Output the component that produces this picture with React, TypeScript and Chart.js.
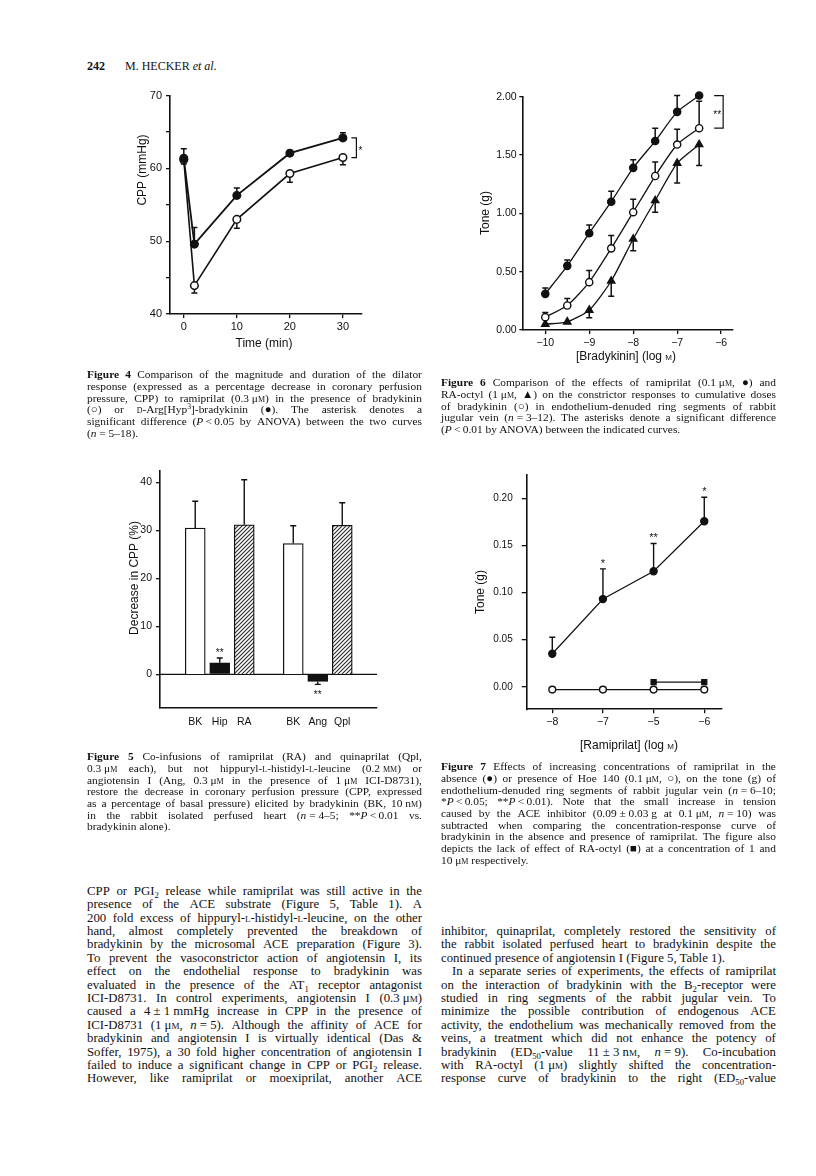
import React, { useEffect, useRef } from 'react';
import { Chart, registerables } from 'chart.js';

Chart.register(...registerables);

const INK = '#111111';
const SANS = '"Liberation Sans", Arial, sans-serif';
const SERIF = '"Liberation Serif", "Times New Roman", serif';
Chart.defaults.font.family = SANS;
Chart.defaults.color = INK;

// ---------- Figure 4 data ----------
const fig4TimeMin = [0, 2, 10, 20, 30];
const fig4DArgCpp = [61.4, 49.6, 56.3, 62.1, 64.2];
const fig4DArgSem = [1.3, 2.3, 1.0, 0.3, 0.7];
const fig4BkCpp = [61.2, 43.9, 53.0, 59.3, 61.5];
const fig4BkSem = [0.6, 1.0, 1.2, 1.2, 1.0];
const fig4YTicks = [40, 45, 50, 55, 60, 65, 70];
const fig4XTicks = [0, 10, 20, 30];

// ---------- Figure 6 data ----------
const fig6LogBk = [-10, -9.5, -9, -8.5, -8, -7.5, -7, -6.5];
const fig6RamiTone = [0.31, 0.55, 0.83, 1.10, 1.39, 1.62, 1.87, 2.01];
const fig6RamiSem = [0.05, 0.05, 0.07, 0.09, 0.07, 0.11, 0.14, 0];
const fig6BkTone = [0.11, 0.21, 0.41, 0.70, 1.01, 1.32, 1.59, 1.73];
const fig6BkSem = [0.04, 0.06, 0.10, 0.11, 0.11, 0.12, 0.13, 0.23];
const fig6OctylTone = [0.05, 0.07, 0.17, 0.42, 0.78, 1.11, 1.43, 1.59];
const fig6OctylSem = [0, 0, 0.065, 0.13, 0.10, 0.10, 0.17, 0.18];
const fig6YTicks = [0, 0.5, 1.0, 1.5, 2.0];
const fig6XTicks = [-10, -9, -8, -7, -6];

// ---------- Figure 5 data ----------
const fig5Labels = ['BK', 'Hip', 'RA', '', 'BK', 'Ang', 'Qpl'];
const fig5Decrease = [30.5, 2.4, 31.2, null, 27.3, -1.5, 31.1];
const fig5Sem = [5.6, 1.0, 9.4, null, 3.7, 0.6, 4.7];
const fig5Stars = ['', '**', '', '', '', '**', ''];
const fig5YTicks = [0, 10, 20, 30, 40];

// ---------- Figure 7 data ----------
const fig7Labels = ['\u22128', '\u22127', '\u22125', '\u22126'];
const fig7RamiTone = [0.035, 0.093, 0.1225, 0.1755];
const fig7RamiSem = [0.0175, 0.032, 0.0295, 0.0255];
const fig7HoeTone = [-0.003, -0.003, -0.003, -0.003];
const fig7OctylTone = [null, null, 0.005, 0.005];
const fig7Stars = ['', '*', '**', '*'];
const fig7YTicks = [0, 0.05, 0.1, 0.15, 0.2];

// ---------- text ----------
const fig4Caption = [
  '{b:Figure} {b:4} Comparison of the magnitude and duration of the dilator',
  'response (expressed as a percentage decrease in coronary perfusion',
  'pressure, CPP) to ramiprilat (0.3\u00a0μ{sc:m}) in the presence of bradykinin',
  '(\u25cb) or {sc:d}-Arg[Hyp{sup:3}]-bradykinin (\u25cf). The asterisk denotes a',
  'significant difference ({i:P}\u2009<\u20090.05 by ANOVA) between the two curves',
  '({i:n}\u00a0=\u00a05\u201318).¶',
];
const fig6Caption = [
  '{b:Figure} {b:6} Comparison of the effects of ramiprilat (0.1\u00a0μ{sc:m}, \u25cf) and',
  'RA-octyl (1\u00a0μ{sc:m}, \u25b2) on the constrictor responses to cumulative doses',
  'of bradykinin (\u25cb) in endothelium-denuded ring segments of rabbit',
  'jugular vein ({i:n}\u00a0=\u00a03\u201312). The asterisks denote a significant difference',
  '({i:P}\u2009<\u20090.01 by ANOVA) between the indicated curves.¶',
];
const fig5Caption = [
  '{b:Figure} {b:5} Co-infusions of ramiprilat (RA) and quinaprilat (Qpl,',
  '0.3\u00a0μ{sc:m} each), but not hippuryl-{sc:l}-histidyl-{sc:l}-leucine (0.2\u00a0{sc:mm}) or',
  'angiotensin I (Ang, 0.3\u00a0μ{sc:m} in the presence of 1\u00a0μ{sc:m} ICI-D8731),',
  'restore the decrease in coronary perfusion pressure (CPP, expressed',
  'as a percentage of basal pressure) elicited by bradykinin (BK, 10\u00a0n{sc:m})',
  'in the rabbit isolated perfused heart ({i:n}\u00a0=\u00a04\u20135; **{i:P}\u2009<\u20090.01 vs.',
  'bradykinin alone).¶',
];
const fig7Caption = [
  '{b:Figure} {b:7} Effects of increasing concentrations of ramiprilat in the',
  'absence (\u25cf) or presence of Hoe 140 (0.1\u00a0μ{sc:m}, \u25cb), on the tone (g) of',
  'endothelium-denuded ring segments of rabbit jugular vein ({i:n}\u00a0=\u00a06\u201310;',
  '*{i:P}\u2009<\u20090.05; **{i:P}\u2009<\u20090.01). Note that the small increase in tension',
  'caused by the ACE inhibitor (0.09\u00a0±\u00a00.03\u00a0g at 0.1\u00a0μ{sc:m}, {i:n}\u00a0=\u00a010) was',
  'subtracted when comparing the concentration-response curve of',
  'bradykinin in the absence and presence of ramiprilat. The figure also',
  'depicts the lack of effect of RA-octyl (\u25a0) at a concentration of 1 and',
  '10\u00a0μ{sc:m}  respectively.¶',
];
const bodyLeft = [
  'CPP or PGI{sub:2} release while ramiprilat was still active in the',
  'presence of the ACE substrate (Figure 5, Table 1). A',
  '200 fold excess of hippuryl-{sc:l}-histidyl-{sc:l}-leucine, on the other',
  'hand, almost completely prevented the breakdown of',
  'bradykinin by the microsomal ACE preparation (Figure 3).',
  'To prevent the vasoconstrictor action of angiotensin I, its',
  'effect on the endothelial response to bradykinin was',
  'evaluated in the presence of the AT{sub:1} receptor antagonist',
  'ICI-D8731. In control experiments, angiotensin I (0.3\u00a0μ{sc:m})',
  'caused a 4\u00a0±\u00a01\u00a0mmHg increase in CPP in the presence of',
  'ICI-D8731 (1\u00a0μ{sc:m}, {i:n}\u00a0=\u00a05). Although the affinity of ACE for',
  'bradykinin and angiotensin I is virtually identical (Das &',
  'Soffer, 1975), a 30 fold higher concentration of angiotensin I',
  'failed to induce a significant change in CPP or PGI{sub:2} release.',
  'However, like ramiprilat or moexiprilat, another ACE',
];
const bodyRight = [
  'inhibitor, quinaprilat, completely restored the sensitivity of',
  'the rabbit isolated perfused heart to bradykinin despite the',
  'continued presence of angiotensin I (Figure 5, Table 1).¶',
  '>In a separate series of experiments, the effects of ramiprilat',
  'on the interaction of bradykinin with the B{sub:2}-receptor were',
  'studied in ring segments of the rabbit jugular vein. To',
  'minimize the possible contribution of endogenous ACE',
  'activity, the endothelium was mechanically removed from the',
  'veins, a treatment which did not enhance the potency of',
  'bradykinin (ED{sub:50}-value 11\u00a0±\u00a03\u00a0n{sc:m}, {i:n}\u00a0=\u00a09). Co-incubation',
  'with RA-octyl (1\u00a0μ{sc:m}) slightly shifted the concentration-',
  'response curve of bradykinin to the right (ED{sub:50}-value',
];

// ---------- helpers ----------
function rich(s: string): React.ReactNode[] {
  const out: React.ReactNode[] = [];
  const re = /\{(b|i|sc|sup|sub):([^}]*)\}/g;
  let last = 0;
  let m: RegExpExecArray | null;
  let k = 0;
  while ((m = re.exec(s))) {
    if (m.index > last) out.push(s.slice(last, m.index));
    const kind = m[1];
    const t = m[2];
    let st: React.CSSProperties = {};
    if (kind === 'b') st = { fontWeight: 'bold' };
    else if (kind === 'i') st = { fontStyle: 'italic' };
    else if (kind === 'sc') st = { fontVariant: 'small-caps' };
    else if (kind === 'sup') st = { fontSize: '0.68em', verticalAlign: '0.5em', lineHeight: 0 };
    else st = { fontSize: '0.68em', verticalAlign: '-0.3em', lineHeight: 0 };
    out.push(<span key={k++} style={st}>{t}</span>);
    last = re.lastIndex;
  }
  if (last < s.length) out.push(s.slice(last));
  return out;
}

function TextBlock(props: { lines: string[]; left: number; firstCenter: number; width: number; size: number; lh: number; indent?: number }) {
  const { lines, left, firstCenter, width, size, lh } = props;
  const indent = props.indent ?? 12;
  return (
    <>
      {lines.map((raw, i) => {
        let s = raw;
        let ind = 0;
        let justify = true;
        if (s.startsWith('>')) { s = s.slice(1); ind = indent; }
        if (s.endsWith('¶')) { s = s.slice(0, -1); justify = false; }
        const top = firstCenter + i * lh - lh / 2;
        const base: React.CSSProperties = {
          position: 'absolute', left: left + ind, top, width: width - ind, height: lh,
          lineHeight: lh + 'px', fontSize: size, fontFamily: SERIF, color: INK, whiteSpace: 'nowrap',
        };
        if (!justify) return <div key={i} style={base}>{rich(s)}</div>;
        const words = s.split(' ').filter((w) => w.length > 0);
        return (
          <div key={i} style={{ ...base, display: 'flex', justifyContent: 'space-between' }}>
            {words.map((w, j) => <span key={j}>{rich(w)}</span>)}
          </div>
        );
      })}
    </>
  );
}

function AxisTitle(props: { x: number; y: number; rotate?: boolean; size?: number; children: React.ReactNode }) {
  return (
    <div style={{
      position: 'absolute', left: props.x, top: props.y, whiteSpace: 'nowrap',
      transform: `translate(-50%, -50%)${props.rotate ? ' rotate(-90deg)' : ''}`,
      fontFamily: SANS, fontSize: props.size ?? 12, color: INK, lineHeight: '14px',
    }}>{props.children}</div>
  );
}

type Box = { left: number; top: number; width: number; height: number };
type Area = { left: number; top: number; right: number; bottom: number };

function frame(box: Box, area: Area) {
  return {
    padding: { left: 0, top: area.top - box.top, right: box.left + box.width - area.right, bottom: 0 },
    yWidth: area.left - box.left,
    xHeight: box.top + box.height - area.bottom,
  };
}

function drawErrorBars(chart: any, opts: any, after: boolean) {
  const ctx = chart.ctx;
  const cap = opts?.cap ?? 3;
  ctx.save();
  ctx.strokeStyle = INK;
  ctx.lineWidth = opts?.width ?? 1.4;
  chart.data.datasets.forEach((ds: any, di: number) => {
    if (!ds.errors || !!ds.errAfter !== after) return;
    const meta = chart.getDatasetMeta(di);
    const ys = chart.scales[meta.yAxisID];
    meta.data.forEach((el: any, j: number) => {
      const raw = ds.data[j];
      const v = raw && typeof raw === 'object' ? raw.y : raw;
      const e = ds.errors[j];
      if (v == null || !e) return;
      const dir = ds.errDir === 'down' ? -1 : ds.errDir === 'sign' ? (v < 0 ? -1 : 1) : 1;
      const y0 = ys.getPixelForValue(v);
      const y1 = ys.getPixelForValue(v + dir * e);
      const x = el.x;
      ctx.beginPath();
      ctx.moveTo(x, y0);
      ctx.lineTo(x, y1);
      ctx.moveTo(x - cap, y1);
      ctx.lineTo(x + cap, y1);
      ctx.stroke();
    });
  });
  ctx.restore();
}

function drawStars(chart: any, opts: any) {
  const ctx = chart.ctx;
  const size = opts?.starSize ?? 11;
  const gap = opts?.starGap ?? 8;
  ctx.save();
  ctx.fillStyle = INK;
  ctx.font = `${size}px ${SANS}`;
  ctx.textAlign = 'center';
  ctx.textBaseline = 'alphabetic';
  chart.data.datasets.forEach((ds: any, di: number) => {
    if (!ds.stars) return;
    const meta = chart.getDatasetMeta(di);
    const ys = chart.scales[meta.yAxisID];
    meta.data.forEach((el: any, j: number) => {
      const star = ds.stars[j];
      if (!star) return;
      const raw = ds.data[j];
      const v = raw && typeof raw === 'object' ? raw.y : raw;
      if (v == null) return;
      const e = ds.errors ? ds.errors[j] || 0 : 0;
      const dir = v < 0 ? -1 : 1;
      const yEnd = ys.getPixelForValue(v + dir * e);
      const center = dir > 0 ? yEnd - gap : yEnd + gap;
      ctx.fillText(star, el.x, center + 0.58 * size);
    });
  });
  ctx.restore();
}

const errorBarsPlugin = {
  id: 'errorBars',
  beforeDatasetsDraw(chart: any, _a: any, opts: any) { drawErrorBars(chart, opts, false); },
  afterDatasetsDraw(chart: any, _a: any, opts: any) { drawErrorBars(chart, opts, true); drawStars(chart, opts); },
};

const zeroLinePlugin = {
  id: 'zeroLine',
  beforeDatasetsDraw(chart: any, _a: any, opts: any) {
    if (!opts || !opts.show) return;
    const ctx = chart.ctx;
    const y = chart.scales.y.getPixelForValue(0);
    ctx.save();
    ctx.strokeStyle = INK;
    ctx.lineWidth = 1.4;
    ctx.beginPath();
    ctx.moveTo(chart.chartArea.left, y);
    ctx.lineTo(chart.chartArea.right, y);
    ctx.stroke();
    ctx.restore();
  },
};

const bracketPlugin = {
  id: 'sigBracket',
  afterDatasetsDraw(chart: any, _a: any, o: any) {
    if (!o || o.a == null) return;
    const pa = chart.getDatasetMeta(o.a).data[o.index];
    const pb = chart.getDatasetMeta(o.b).data[o.index];
    if (!pa || !pb) return;
    const ctx = chart.ctx;
    const x = pa.x + o.dx;
    ctx.save();
    ctx.strokeStyle = INK;
    ctx.lineWidth = 1.2;
    ctx.beginPath();
    ctx.moveTo(x - o.tick, pa.y);
    ctx.lineTo(x, pa.y);
    ctx.lineTo(x, pb.y);
    ctx.lineTo(x - o.tick, pb.y);
    ctx.stroke();
    ctx.fillStyle = INK;
    ctx.font = `${o.size}px ${SANS}`;
    ctx.textAlign = o.align || 'left';
    ctx.textBaseline = 'alphabetic';
    ctx.fillText(o.label, x + o.labelDx, (pa.y + pb.y) / 2 + 0.58 * o.size);
    ctx.restore();
  },
};

function axisCommon(tickLength: number, drawTicks = true) {
  return {
    grid: { display: true, drawOnChartArea: false, drawTicks, tickLength, color: INK, lineWidth: 1.3 },
    border: { display: true, color: INK, width: 1.6 },
  };
}

function ChartBox(props: { box: Box; build: () => any }) {
  const ref = useRef<HTMLCanvasElement | null>(null);
  useEffect(() => {
    const c = new Chart(ref.current as HTMLCanvasElement, props.build());
    return () => c.destroy();
  }, []);
  const b = props.box;
  return (
    <canvas ref={ref} width={b.width} height={b.height}
      style={{ position: 'absolute', left: b.left, top: b.top, width: b.width, height: b.height }} />
  );
}

const baseOptions = (f: ReturnType<typeof frame>) => ({
  responsive: false,
  animation: false,
  events: [],
  layout: { padding: f.padding },
});

const minus = (v: number) => (v < 0 ? '\u2212' + Math.abs(v) : String(v));

// ---------- Figure 4 ----------
const fig4Box: Box = { left: 100, top: 80, width: 290, height: 280 };
function buildFig4() {
  const f = frame(fig4Box, { left: 170, top: 95.7, right: 362, bottom: 314 });
  return {
    type: 'line',
    data: {
      datasets: [
        {
          data: fig4TimeMin.map((t, i) => ({ x: t, y: fig4DArgCpp[i] })),
          borderColor: INK, borderWidth: 1.8, tension: 0, clip: false,
          pointRadius: 3.9, pointBackgroundColor: INK, pointBorderColor: INK, pointBorderWidth: 1.2,
          errors: fig4DArgSem, errDir: 'up',
        },
        {
          data: fig4TimeMin.map((t, i) => ({ x: t, y: fig4BkCpp[i] })),
          borderColor: INK, borderWidth: 1.6, tension: 0, clip: false,
          pointRadius: 3.8, pointBackgroundColor: '#fff', pointBorderColor: INK, pointBorderWidth: 1.5,
          errors: fig4BkSem, errDir: 'down',
        },
      ],
    },
    options: {
      ...baseOptions(f),
      plugins: {
        legend: { display: false }, tooltip: { enabled: false },
        errorBars: { cap: 3, width: 1.5 },
        sigBracket: { a: 0, b: 1, index: 4, dx: 13.5, tick: 5, label: '*', labelDx: 2, size: 10 },
      },
      scales: {
        x: {
          type: 'linear', min: -2.6, max: 33.6, ...axisCommon(4),
          afterBuildTicks: (s: any) => { s.ticks = fig4XTicks.map((v) => ({ value: v })); },
          ticks: { padding: 2, font: { size: 11 }, color: INK, maxRotation: 0, autoSkip: false, callback: (v: any) => String(v) },
          afterFit: (s: any) => { s.height = f.xHeight; },
        },
        y: {
          type: 'linear', min: 40, max: 70, ...axisCommon(4),
          afterBuildTicks: (s: any) => { s.ticks = fig4YTicks.map((v) => ({ value: v })); },
          ticks: { padding: 4, font: { size: 11 }, color: INK, autoSkip: false, callback: (v: any) => (v % 10 === 0 ? String(v) : '') },
          afterFit: (s: any) => { s.width = f.yWidth; },
        },
      },
    },
    plugins: [errorBarsPlugin, bracketPlugin],
  };
}

// ---------- Figure 6 ----------
const fig6Box: Box = { left: 460, top: 85, width: 290, height: 280 };
function buildFig6() {
  const f = frame(fig6Box, { left: 523.3, top: 96.7, right: 733, bottom: 330 });
  const line = (ys: number[], errs: number[], dir: string, style: string, fill: string, r: number) => ({
    data: fig6LogBk.map((x, i) => ({ x, y: ys[i] })),
    borderColor: INK, borderWidth: 1.3, tension: 0.2, clip: false,
    pointStyle: style, pointRadius: r, pointBackgroundColor: fill, pointBorderColor: INK, pointBorderWidth: 1.4,
    errors: errs, errDir: dir,
  });
  return {
    type: 'line',
    data: {
      datasets: [
        line(fig6RamiTone, fig6RamiSem, 'up', 'circle', INK, 3.6),
        line(fig6BkTone, fig6BkSem, 'up', 'circle', '#fff', 3.6),
        line(fig6OctylTone, fig6OctylSem, 'down', 'triangle', INK, 4.2),
      ],
    },
    options: {
      ...baseOptions(f),
      plugins: {
        legend: { display: false }, tooltip: { enabled: false },
        errorBars: { cap: 3, width: 1.5 },
        sigBracket: { a: 0, b: 1, index: 7, dx: 24, tick: 9, label: '**', labelDx: -2, size: 10, align: 'right' },
      },
      scales: {
        x: {
          type: 'linear', min: -10.5, max: -5.73, ...axisCommon(4),
          afterBuildTicks: (s: any) => { s.ticks = fig6XTicks.map((v) => ({ value: v })); },
          ticks: { padding: 3, font: { size: 10.5 }, color: INK, maxRotation: 0, autoSkip: false, callback: (v: any) => minus(v) },
          afterFit: (s: any) => { s.height = f.xHeight; },
        },
        y: {
          type: 'linear', min: 0, max: 2.0, ...axisCommon(4),
          afterBuildTicks: (s: any) => { s.ticks = fig6YTicks.map((v) => ({ value: v })); },
          ticks: { padding: 2.6, font: { size: 10.5 }, color: INK, autoSkip: false, callback: (v: any) => Number(v).toFixed(2) },
          afterFit: (s: any) => { s.width = f.yWidth; },
        },
      },
    },
    plugins: [errorBarsPlugin, bracketPlugin],
  };
}

// ---------- Figure 5 ----------
const fig5Box: Box = { left: 100, top: 460, width: 300, height: 280 };
function hatchPattern(ctx: CanvasRenderingContext2D) {
  const t = document.createElement('canvas');
  t.width = 4; t.height = 4;
  const c = t.getContext('2d') as CanvasRenderingContext2D;
  c.fillStyle = '#fff';
  c.fillRect(0, 0, 4, 4);
  c.strokeStyle = '#2a2a2a';
  c.lineWidth = 1.1;
  c.beginPath();
  c.moveTo(0, 4); c.lineTo(4, 0);
  c.moveTo(-1, 1); c.lineTo(1, -1);
  c.moveTo(3, 5); c.lineTo(5, 3);
  c.stroke();
  return ctx.createPattern(t, 'repeat');
}
function buildFig5(canvasCtx: CanvasRenderingContext2D) {
  const f = frame(fig5Box, { left: 160, top: 470, right: 377, bottom: 708 });
  const hatch = hatchPattern(canvasCtx);
  const fillFor = (lab: string) => (lab === 'BK' ? '#fff' : lab === 'Hip' || lab === 'Ang' ? INK : hatch);
  return {
    type: 'bar',
    data: {
      datasets: [
        {
          data: fig5Labels.map((_, i) => ({ x: i + 1, y: fig5Decrease[i] })),
          backgroundColor: fig5Labels.map(fillFor),
          borderColor: INK, borderWidth: 1.3, barThickness: 20,
          errors: fig5Sem, errDir: 'sign', errAfter: true, stars: fig5Stars,
        },
      ],
    },
    options: {
      ...baseOptions(f),
      plugins: {
        legend: { display: false }, tooltip: { enabled: false },
        errorBars: { cap: 3, width: 1.4, starSize: 10, starGap: 7.5 },
        zeroLine: { show: true },
      },
      scales: {
        x: {
          type: 'linear', min: 0.3, max: 7.68, ...axisCommon(0, false),
          afterBuildTicks: (s: any) => { s.ticks = fig5Labels.map((l, i) => ({ value: i + 1, l })).filter((t) => t.l).map((t) => ({ value: t.value })); },
          ticks: { padding: 7.4, font: { size: 10.5 }, color: INK, maxRotation: 0, autoSkip: false, callback: (v: any) => fig5Labels[Math.round(v) - 1] },
          afterFit: (s: any) => { s.height = f.xHeight; },
        },
        y: {
          type: 'linear', min: -7.02, max: 42.56, ...axisCommon(4),
          afterBuildTicks: (s: any) => { s.ticks = fig5YTicks.map((v) => ({ value: v })); },
          ticks: { padding: 4, font: { size: 10.5 }, color: INK, autoSkip: false, callback: (v: any) => String(v) },
          afterFit: (s: any) => { s.width = f.yWidth; },
        },
      },
    },
    plugins: [errorBarsPlugin, zeroLinePlugin],
  };
}

// ---------- Figure 7 ----------
const fig7Box: Box = { left: 460, top: 460, width: 290, height: 280 };
function buildFig7() {
  const f = frame(fig7Box, { left: 526.7, top: 470, right: 722, bottom: 709.3 });
  const xs = fig7Labels.map((_, i) => i + 1);
  return {
    type: 'line',
    data: {
      datasets: [
        {
          data: xs.map((x, i) => ({ x, y: fig7RamiTone[i] })),
          borderColor: INK, borderWidth: 1.2, tension: 0, clip: false,
          pointRadius: 3.6, pointBackgroundColor: INK, pointBorderColor: INK,
          errors: fig7RamiSem, errDir: 'up', stars: fig7Stars,
        },
        {
          data: xs.map((x, i) => ({ x, y: fig7OctylTone[i] })),
          borderColor: INK, borderWidth: 1.2, tension: 0, clip: false, spanGaps: false,
          pointStyle: 'rect', pointRadius: 3.6, pointBackgroundColor: INK, pointBorderColor: INK,
        },
        {
          data: xs.map((x, i) => ({ x, y: fig7HoeTone[i] })),
          borderColor: INK, borderWidth: 1.2, tension: 0, clip: false,
          pointRadius: 3.4, pointBackgroundColor: '#fff', pointBorderColor: INK, pointBorderWidth: 1.4,
        },
      ],
    },
    options: {
      ...baseOptions(f),
      plugins: {
        legend: { display: false }, tooltip: { enabled: false },
        errorBars: { cap: 3, width: 1.4, starSize: 11, starGap: 8.5 },
      },
      scales: {
        x: {
          type: 'linear', min: 0.495, max: 4.35, ...axisCommon(4),
          afterBuildTicks: (s: any) => { s.ticks = xs.map((v) => ({ value: v })); },
          ticks: { padding: 2.4, font: { size: 10.5 }, color: INK, maxRotation: 0, autoSkip: false, callback: (v: any) => fig7Labels[Math.round(v) - 1] },
          afterFit: (s: any) => { s.height = f.xHeight; },
        },
        y: {
          type: 'linear', min: -0.0239, max: 0.2246, ...axisCommon(5),
          afterBuildTicks: (s: any) => { s.ticks = fig7YTicks.map((v) => ({ value: v })); },
          ticks: { padding: 9, font: { size: 10 }, color: INK, autoSkip: false, callback: (v: any) => Number(v).toFixed(2) },
          afterFit: (s: any) => { s.width = f.yWidth; },
        },
      },
    },
    plugins: [errorBarsPlugin],
  };
}

function Fig5Box() {
  const ref = useRef<HTMLCanvasElement | null>(null);
  useEffect(() => {
    const el = ref.current as HTMLCanvasElement;
    const c = new Chart(el, buildFig5(el.getContext('2d') as CanvasRenderingContext2D) as any);
    return () => c.destroy();
  }, []);
  const b = fig5Box;
  return <canvas ref={ref} width={b.width} height={b.height}
    style={{ position: 'absolute', left: b.left, top: b.top, width: b.width, height: b.height }} />;
}

const sc = (t: string) => <span style={{ fontVariant: 'small-caps' }}>{t}</span>;

const CAP = 11.4;
const CAP_LH = 11.7;
const BODY = 12.8;
const BODY_LH = 13.4;

export default function App() {
  useEffect(() => {
    document.body.style.margin = '0';
  }, []);
  return (
    <div style={{ position: 'absolute', left: 0, top: 0, width: 816, height: 1176, background: '#fff', overflow: 'hidden' }}>
      {/* header */}
      <div style={{ position: 'absolute', left: 87, top: 58, fontFamily: SERIF, fontSize: 12, lineHeight: '16px', color: INK, whiteSpace: 'nowrap' }}>
        <span style={{ fontWeight: 'bold' }}>242</span>
        <span style={{ position: 'absolute', left: 38 }}>M. HECKER <i>et al.</i></span>
      </div>

      <ChartBox box={fig4Box} build={buildFig4} />
      <ChartBox box={fig6Box} build={buildFig6} />
      <Fig5Box />
      <ChartBox box={fig7Box} build={buildFig7} />

      <AxisTitle x={264} y={343}>Time (min)</AxisTitle>
      <AxisTitle x={142} y={170} rotate>CPP (mmHg)</AxisTitle>
      <AxisTitle x={485} y={213} rotate>Tone (g)</AxisTitle>
      <AxisTitle x={626} y={356}>[Bradykinin] (log {sc('m')})</AxisTitle>
      <AxisTitle x={134} y={578} rotate>Decrease in CPP (%)</AxisTitle>
      <AxisTitle x={480} y={592} rotate>Tone (g)</AxisTitle>
      <AxisTitle x={629} y={745}>[Ramiprilat] (log {sc('m')})</AxisTitle>

      <TextBlock lines={fig4Caption} left={87} firstCenter={375} width={335} size={CAP} lh={CAP_LH} />
      <TextBlock lines={fig6Caption} left={441} firstCenter={383} width={335} size={CAP} lh={CAP_LH} />
      <TextBlock lines={fig5Caption} left={87} firstCenter={757} width={335} size={CAP} lh={CAP_LH} />
      <TextBlock lines={fig7Caption} left={441} firstCenter={767} width={335} size={CAP} lh={CAP_LH} />
      <TextBlock lines={bodyLeft} left={87} firstCenter={891.5} width={335} size={BODY} lh={BODY_LH} />
      <TextBlock lines={bodyRight} left={441} firstCenter={931.7} width={335} size={BODY} lh={BODY_LH} indent={11} />
    </div>
  );
}
